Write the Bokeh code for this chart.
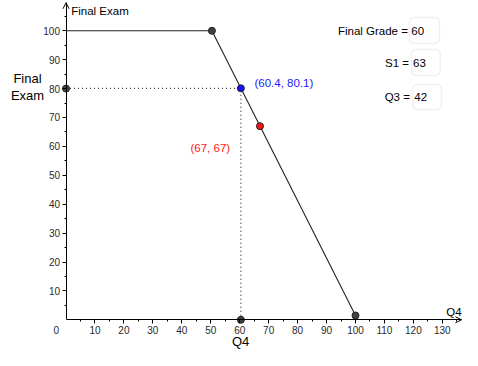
from bokeh.plotting import figure
from bokeh.models import Range1d, LinearAxis, FixedTicker, Arrow, OpenHead, BoxAnnotation
from bokeh.core.properties import value
from bokeh.embed import file_html
from bokeh.resources import INLINE

# ---- data ----
line_x = [0, 50.4, 100]
line_y = [100, 100, 1.5]
gray_pts_x = [0, 50.4, 60.4, 100]
gray_pts_y = [80, 100, 0, 1.5]
blue_pt = (60.4, 80.1)
red_pt = (67, 67)
x_ticks = [10, 20, 30, 40, 50, 60, 70, 80, 90, 100, 110, 120, 130]
x_minor = [5, 15, 25, 35, 45, 55, 65, 75, 85, 95, 105, 115, 125, 135]
y_ticks = [10, 20, 30, 40, 50, 60, 70, 80, 90, 100]
y_minor = [5, 15, 25, 35, 45, 55, 65, 75, 85, 95, 105]
input_labels = ["Final Grade =", "S1 =", "Q3 ="]
input_values = ["60", "63", "42"]

FONT = "Liberation Sans"

p = figure(width=462, height=350, x_range=Range1d(-22.63, 136.96),
           y_range=Range1d(-10.62, 110.48), min_border=0,
           toolbar_location=None, output_backend="svg",
           x_axis_location=None, y_axis_location=None)
p.xgrid.visible = False
p.ygrid.visible = False
p.outline_line_color = None
p.background_fill_color = "white"

X_END = 136.6
Y_END = 109.7

def style_axis(ax):
    ax.major_tick_in = 0
    ax.major_tick_out = 4
    ax.minor_tick_in = 0
    ax.minor_tick_out = 2
    ax.major_label_standoff = 2
    ax.major_label_text_font = FONT
    ax.major_label_text_font_size = "10px"
    ax.major_label_text_color = "#2a2a2a"
    ax.axis_line_color = "black"
    ax.major_tick_line_color = "black"
    ax.minor_tick_line_color = "black"

xax = LinearAxis(fixed_location=0, bounds=(0, X_END),
                 ticker=FixedTicker(ticks=x_ticks, minor_ticks=x_minor))
style_axis(xax)
p.add_layout(xax, "below")
yax = LinearAxis(fixed_location=0, bounds=(0, Y_END),
                 ticker=FixedTicker(ticks=y_ticks, minor_ticks=y_minor))
style_axis(yax)
p.add_layout(yax, "left")

p.add_layout(Arrow(end=OpenHead(size=6, line_width=1, line_color="black"),
                   x_start=X_END - 3, y_start=0, x_end=X_END, y_end=0,
                   line_alpha=0))
p.add_layout(Arrow(end=OpenHead(size=6, line_width=1, line_color="black"),
                   x_start=0, y_start=Y_END - 3, x_end=0, y_end=Y_END,
                   line_alpha=0))

# dotted guides
p.line([0, blue_pt[0]], [blue_pt[1], blue_pt[1]], line_dash="1 3",
       line_color="#333333", line_width=1.2)
p.line([blue_pt[0], blue_pt[0]], [0, blue_pt[1]], line_dash="1 3",
       line_color="#333333", line_width=1.2)

# main line
p.line(line_x, line_y, line_color="#222222", line_width=1.1)

# points
p.scatter(gray_pts_x, gray_pts_y, size=7, fill_color="#404040",
          line_color="#222222")
p.scatter([blue_pt[0]], [blue_pt[1]], size=7, fill_color="#1010ff",
          line_color="#222222")
p.scatter([red_pt[0]], [red_pt[1]], size=7, fill_color="#ff1010",
          line_color="#222222")

def txt(x, y, s, size="11.5px", color="black", align="left", baseline="middle"):
    p.text([x], [y], text=[s], text_font=value(FONT), text_font_size=size,
           text_color=color, text_align=align, text_baseline=baseline)

txt(blue_pt[0] + 4.7, blue_pt[1] + 2.0, "(%g, %g)" % blue_pt, color="#1a1aff")
txt(43.0, 59.3, "(%g, %g)" % red_pt, color="#ff2020")

txt(1.8, 107.0, "Final Exam")
txt(134.0, 2.6, "Q4", align="center")
txt(-3.4, -3.5, "0", size="10px", color="#2a2a2a", align="center")
txt(-13.3, 83.5, "Final", size="13px", align="center")
txt(-13.3, 77.6, "Exam", size="13px", align="center")
txt(60.3, -7.6, "Q4", size="13px", align="center")

# input boxes
box_l = [118.65, 119.3, 119.7]
box_r = [129.0, 129.3, 129.7]
box_t = [104.6, 93.5, 81.4]
box_b = [95.6, 84.5, 72.8]
lab_x = [118.1, 118.5, 118.8]
lab_y = [100.1, 89.0, 77.0]
for i in range(3):
    p.add_layout(BoxAnnotation(left=box_l[i], right=box_r[i], top=box_t[i],
                               bottom=box_b[i], fill_color="white", fill_alpha=1,
                               line_color="#cccccc", line_width=1.5,
                               border_radius=5, level="underlay"))
    txt(lab_x[i], lab_y[i], input_labels[i], align="right")
    txt(box_l[i] + 0.6, lab_y[i], input_values[i])

open("out.html", "w").write(file_html(p, INLINE))
